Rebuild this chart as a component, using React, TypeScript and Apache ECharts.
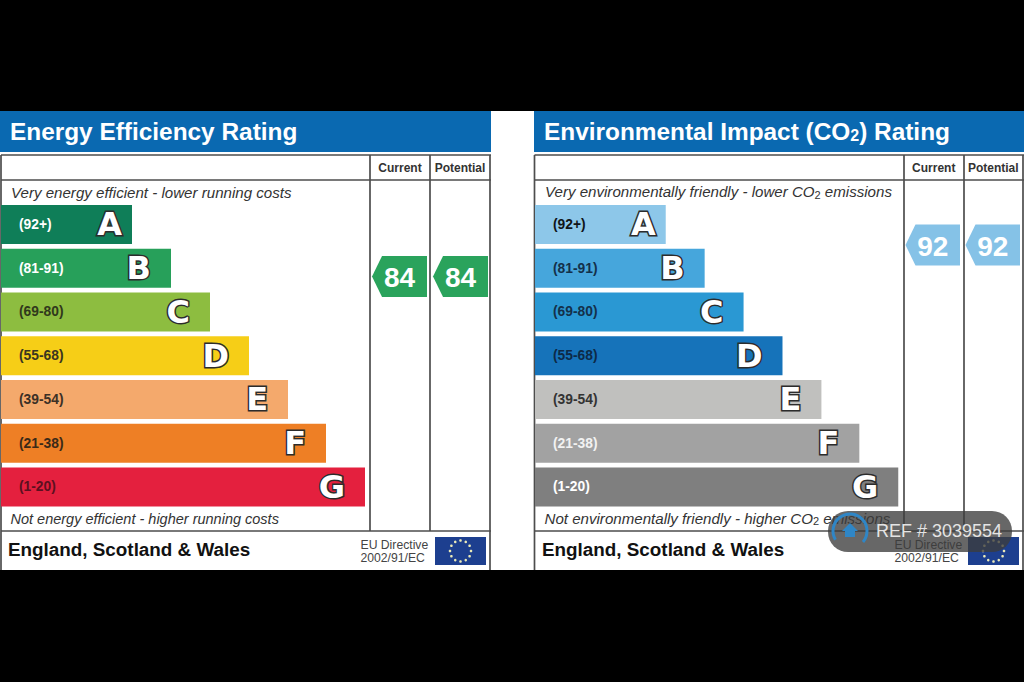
import React, { useEffect, useRef } from "react";
import * as echarts from "echarts";

const FONT = "Liberation Sans, Arial, sans-serif";
const LETTER_FONT = "DejaVu Sans, Liberation Sans, sans-serif";
const ranges = ["(92+)", "(81-91)", "(69-80)", "(55-68)", "(39-54)", "(21-38)", "(1-20)"];
const bands = ["A", "B", "C", "D", "E", "F", "G"];
const bandLengths = [131, 170, 209, 248, 287, 325, 364];
const letterInsets = [10, 20, 20, 20, 20, 20, 20];
const energyColors = ["#0f7e58", "#27a05a", "#8dbd40", "#f6ce17", "#f4a96c", "#ee7f25", "#e4203e"];
const co2Colors = ["#8dc7e9", "#46a6dc", "#2a98d3", "#1673ba", "#c0c0be", "#a2a2a2", "#7f7f7f"];
const energyRangeText = ["#ffffff", "#ffffff", "#30381c", "#3a3520", "#3b3026", "#3b2a18", "#5c1020"];
const co2RangeText = ["#101418", "#14304a", "#14304a", "#0d2a48", "#333333", "#f2f2f2", "#ffffff"];
const columns = ["Current", "Potential"];
const energyRatings = [84, 84];
const co2Ratings = [92, 92];

const panels = [
  { x: 0, edge: 1, right: 491, colA: 370, colB: 430, colC: 490, flagX: 435, lineYShift: 0,
    top: "Very energy efficient - lower running costs", topSize: 15.1,
    bottom: "Not energy efficient - higher running costs", bottomSize: 14.5,
    title: "Energy Efficiency Rating", colors: energyColors, text: energyRangeText, ratings: energyRatings, tag: "#2aa35c", shift: [-0.5, 0.5] },
  { x: 534, edge: 534.5, right: 1024, colA: 904, colB: 964, colC: 1023, flagX: 968, lineYShift: -0.8,
    top: "Very environmentally friendly - lower CO{s|2} emissions", topSize: 15.1,
    bottom: "Not environmentally friendly - higher CO{s|2} emissions", bottomSize: 15.1,
    title: "Environmental Impact (CO{t|2}) Rating", colors: co2Colors, text: co2RangeText, ratings: co2Ratings, tag: "#85c2e7", shift: [-1, -0.5] },
];

const LINE = "#4d4d4d";
function line(x1: number, y1: number, x2: number, y2: number, w = 1.7) {
  return { type: "line", z: 1, shape: { x1, y1, x2, y2 }, style: { stroke: LINE, lineWidth: w } };
}
function label(text: string, x: number, y: number, fontSize: number, extra: any = {}) {
  const { rich, ...rest } = extra;
  return {
    type: "text", z: 3, x, y,
    style: { text, fontSize, fontFamily: FONT, fill: "#333333", verticalAlign: "middle", rich, ...rest },
  };
}
function flag(x: number, y: number) {
  const w = 51, h = 28;
  const stars: any[] = [];
  for (let i = 0; i < 12; i++) {
    const a = (i * Math.PI) / 6;
    stars.push({
      type: "circle", z: 3,
      shape: { cx: x + w / 2 + Math.sin(a) * 10.5, cy: y + h / 2 - Math.cos(a) * 10.5, r: 1.3 },
      style: { fill: "#ecebb8" },
    });
  }
  return [{ type: "rect", z: 2, shape: { x, y, width: w, height: h }, style: { fill: "#1d3f8f" } }, ...stars];
}

function buildOption() {
  const graphic: any[] = [
    { type: "rect", z: 0, shape: { x: 0, y: 111, width: 1024, height: 459 }, style: { fill: "#ffffff" } },
  ];
  const title: any[] = [];
  const grid: any[] = [];
  const xAxis: any[] = [];
  const yAxis: any[] = [];
  const series: any[] = [];

  panels.forEach((p, i) => {
    const subRich = { s: { fontSize: 11, fontFamily: FONT, fill: "#333333", padding: [6, 0, 0, 0] } };
    graphic.push(
      { type: "rect", z: 1, shape: { x: p.x, y: 111, width: p.right - p.x, height: 41 }, style: { fill: "#0a69b1" } },
      line(p.edge, 155, p.right, 155),
      line(p.edge, 180, p.right, 180),
      line(p.edge, 531, p.right, 531),
      line(p.edge, 155, p.edge, 570),
      line(p.colA, 155, p.colA, 531),
      line(p.colB, 155, p.colB, 531),
      line(p.colC, 155, p.colC, 570),
      label(p.top, p.x + 11, 192.5 + p.lineYShift, p.topSize, { fontStyle: "italic", rich: subRich }),
      label(p.bottom, p.x + 10.5, 519 + p.lineYShift, p.bottomSize, { fontStyle: "italic", rich: subRich }),
      label("England, Scotland & Wales", p.x + 8, 549.5, 18.85, { fontWeight: "bold", fill: "#111111" }),
      label("EU Directive", p.colA - 9.5, 544.5, 12.2, { fill: "#444444" }),
      label("2002/91/EC", p.colA - 9.5, 558, 12.2, { fill: "#444444" }),
      ...flag(p.flagX, 537)
    );
    title.push({
      text: p.title, left: p.x + 10, top: 117, padding: 0,
      textStyle: {
        color: "#ffffff", fontSize: 24.4, fontWeight: "bold", fontFamily: FONT, lineHeight: 28,
        rich: { t: { color: "#ffffff", fontSize: 16, fontWeight: "bold", fontFamily: FONT, padding: [9, 0, 0, 0] } },
      },
    });

    const g = i * 2;
    grid.push({ left: p.x + 1, top: 202.6, width: 490, height: 306.25 });
    xAxis.push({ type: "value", gridIndex: g, min: 0, max: 490, show: false });
    yAxis.push({
      type: "category", gridIndex: g, inverse: true, data: ranges, z: 5,
      axisLine: { show: false }, axisTick: { show: false }, splitLine: { show: false },
      axisLabel: {
        inside: true, margin: 18, fontSize: 13.8, fontWeight: "bold", fontFamily: FONT,
        color: (_: string, idx: number) => p.text[idx],
      },
    });
    series.push({
      type: "bar", xAxisIndex: g, yAxisIndex: g, barWidth: 39, silent: true,
      data: bandLengths.map((v, k) => ({
        value: v,
        itemStyle: { color: p.colors[k] },
        label: { distance: letterInsets[k] },
      })),
      label: {
        show: true, position: "insideRight",
        formatter: (d: any) => bands[d.dataIndex],
        fontSize: 32, fontWeight: "bold", fontFamily: LETTER_FONT,
        color: "#ffffff", textBorderColor: "#2c2c2c", textBorderWidth: 3,
      },
    });

    const h = g + 1;
    grid.push({ left: p.colA, top: 213.5, width: p.colC - p.colA, height: 394 });
    xAxis.push({
      type: "category", gridIndex: h, data: columns, position: "top", offset: 46,
      axisLine: { show: false }, axisTick: { show: false },
      axisLabel: { interval: 0, hideOverlap: false, margin: 0, fontSize: 12, fontWeight: "bold", fontFamily: FONT, color: "#333333", verticalAlign: "middle" },
    });
    yAxis.push({ type: "value", gridIndex: h, min: 0, max: 100, show: false, splitLine: { show: false } });
    series.push({
      type: "custom", xAxisIndex: h, yAxisIndex: h, silent: true,
      data: p.ratings.map((v, k) => [k, v]),
      renderItem: (_: any, api: any) => {
        const k = api.value(0);
        const c = api.coord([k, api.value(1)]);
        const hw = api.size([1, 0])[0] * 0.458;
        const cx = c[0] + p.shift[k], l = cx - hw, r = cx + hw, t = c[1] - 20.5, b = c[1] + 20.5;
        return {
          type: "group",
          children: [
            { type: "polygon", shape: { points: [[l, c[1]], [l + 10, t], [r, t], [r, b], [l + 10, b]] }, style: { fill: p.tag } },
            { type: "text", style: { text: String(api.value(1)), x: cx, y: c[1] + 1, align: "center", verticalAlign: "middle", fontSize: 28, fontWeight: "bold", fontFamily: FONT, fill: "#ffffff" } },
          ],
        };
      },
    });
  });

  // Watermark
  graphic.push(
    { type: "rect", z: 20, shape: { x: 828, y: 511, width: 184, height: 41, r: 20 }, style: { fill: "rgba(60,60,60,0.78)" } },
    { type: "arc", z: 21, shape: { cx: 850, cy: 531, r: 17, startAngle: 2.6, endAngle: 0.7 }, style: { stroke: "#2f86c6", lineWidth: 3, fill: "none" } },
    { type: "polygon", z: 21, shape: { points: [[850, 523], [858, 531], [855, 531], [855, 537], [845, 537], [845, 531], [842, 531]] }, style: { fill: "#2f86c6" } },
    { type: "text", z: 21, x: 876, y: 530.5, style: { text: "REF # 3039554", fontSize: 18, fontFamily: FONT, fill: "#e4e4e4", verticalAlign: "middle" } }
  );

  return { animation: false, backgroundColor: "#000000", title, grid, xAxis, yAxis, series, graphic };
}

export default function App() {
  const ref = useRef<HTMLDivElement>(null);
  useEffect(() => {
    const chart = echarts.init(ref.current!, undefined, { renderer: "svg" });
    chart.setOption(buildOption() as any);
    return () => chart.dispose();
  }, []);
  return <div ref={ref} style={{ position: "fixed", left: 0, top: 0, width: 1024, height: 682 }} />;
}
